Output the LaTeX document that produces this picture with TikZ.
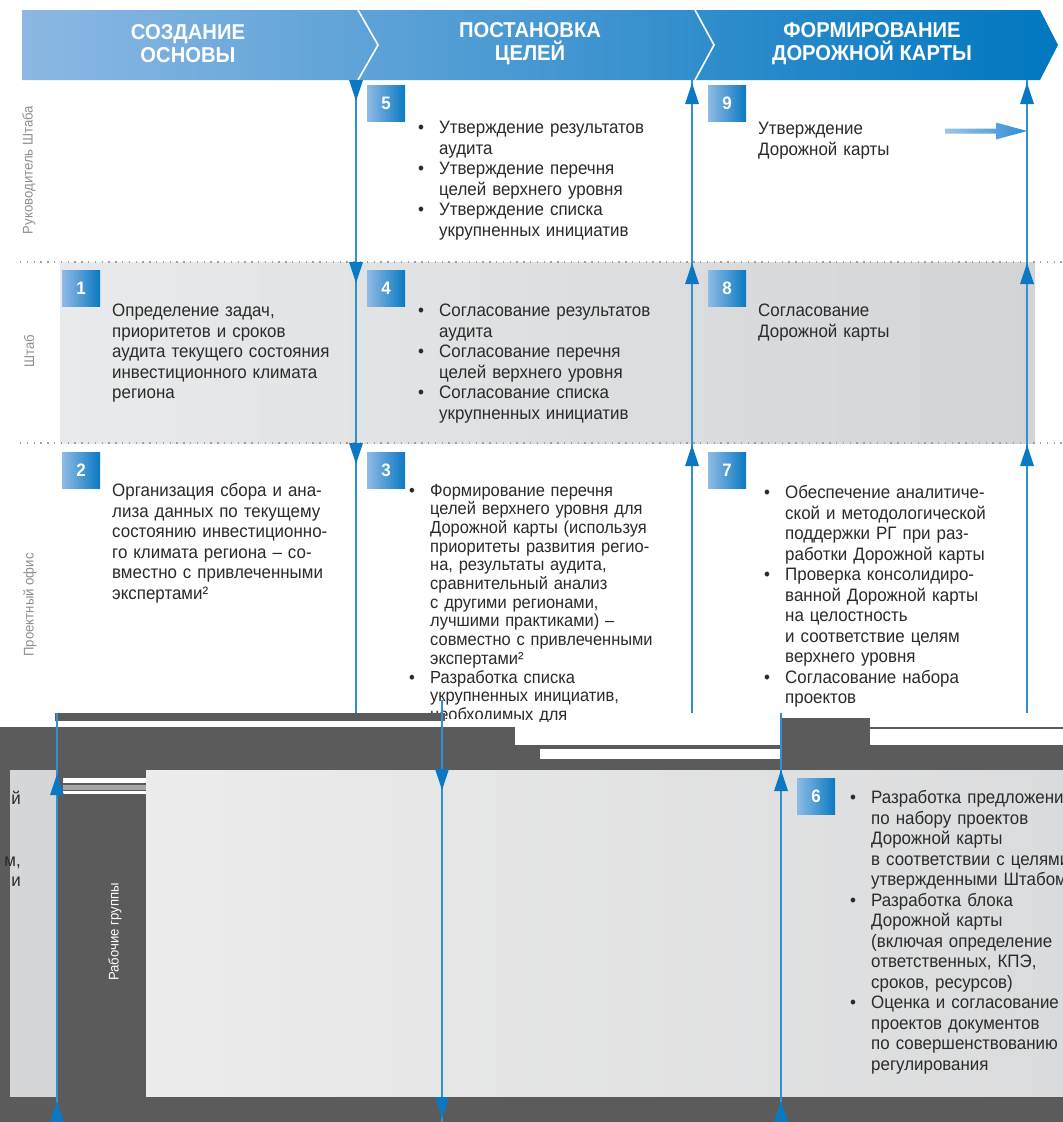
\documentclass[tikz,border=0pt]{standalone}
\usepackage{fontspec}
\setmainfont{Liberation Sans}[FakeStretch=0.94]
\definecolor{hbA}{HTML}{8CB8E3}
\definecolor{hbB}{HTML}{3A92D3}
\definecolor{hbC}{HTML}{0077C0}
\definecolor{bdgA}{HTML}{8FBBE5}
\definecolor{bdgB}{HTML}{0A79C2}
\definecolor{flowc}{HTML}{3090D4}
\definecolor{headc}{HTML}{0A78C2}
\definecolor{txtc}{HTML}{2A2A2A}
\definecolor{lblc}{HTML}{8E8E8E}
\definecolor{dkg}{HTML}{5B5B5B}
\definecolor{lgA}{HTML}{E9EAEB}
\definecolor{lgB}{HTML}{D3D4D6}
\definecolor{lgC}{HTML}{ECECEC}
\definecolor{lgD}{HTML}{DADBDC}
\definecolor{lgE}{HTML}{D5D6D8}
\definecolor{dotc}{HTML}{A0A0A0}
\definecolor{arA}{HTML}{9CC4E8}
\definecolor{arB}{HTML}{2F8ED3}
\newcommand\bl{\makebox[21pt][l]{\textbullet}}
\newcommand\ind{\hspace*{21pt}}
\tikzset{
  body/.style={anchor=base west, inner sep=0pt, text width=330pt, align=left,
    font=\fontsize{18}{20.5}\selectfont, text=txtc},
  bodysmall/.style={body, font=\fontsize{17.5}{18.7}\selectfont},
  badge/.style={minimum width=38pt, minimum height=36pt, inner sep=0pt,
    left color=bdgA, right color=bdgB, text=white,
    font=\bfseries\fontsize{18}{20}\selectfont},
  lanelbl/.style={rotate=90, text=lblc, font=\fontsize{14}{16}\selectfont, inner sep=0pt},
  hdr/.style={text=white, align=center, inner sep=0pt,
    font=\bfseries\fontsize{21.5}{23}\selectfont},
  flow/.style={draw=flowc, line width=1.8pt},
  dotsep/.style={draw=dotc, line width=1.3pt, dash pattern=on 1.3pt off 5.5pt},
  dnhead/.pic={\fill[headc] (-7,0) -- (7,0) -- (0,21) -- cycle;},
  uphead/.pic={\fill[headc] (-7,0) -- (7,0) -- (0,-21) -- cycle;},
}
\begin{document}
\begin{tikzpicture}[x=1pt,y=-1pt]
\useasboundingbox (0,0) rectangle (1063,1122);
\begin{scope}
\clip (0,0) rectangle (1063,1122);
\fill[white] (0,0) rectangle (1063,1122);
% lane 2 background
\shade[left color=lgA, right color=lgB] (60,262) rectangle (1035,443);
% lower section backgrounds
\fill[dkg] (0,770) rectangle (10,1097);
\fill[lgE] (10,770) rectangle (56,1097);
\fill[dkg] (58,770) rectangle (146,1097);
\shade[left color=lgC, right color=lgD] (146,770) rectangle (1063,1097);
\fill[white] (63,778) rectangle (146,783);
\fill[gray!70] (63,785) rectangle (146,790);
\fill[white] (63,791) rectangle (146,794);
\fill[dkg] (0,1097) rectangle (1063,1122);

% banner
\shade[left color=hbA, middle color=hbB, right color=hbC]
  (22,10) -- (1040,10) -- (1058,45) -- (1040,80) -- (22,80) -- cycle;
\draw[white, line width=1.6pt] (358,10) -- (378,45) -- (358,80);
\draw[white, line width=1.6pt] (695,10) -- (714,45) -- (695,80);
\node[hdr] (h1) at (188,44) {СОЗДАНИЕ\\ОСНОВЫ};
\node[hdr] (h2) at (530,44) {ПОСТАНОВКА\\ЦЕЛЕЙ};
\node[hdr] (h3) at (872,44) {ФОРМИРОВАНИЕ\\ДОРОЖНОЙ КАРТЫ};

% lane separators
\draw[dotsep] (20,262) -- (1063,262);
\draw[dotsep] (20,443) -- (1063,443);

% lane labels
\node[lanelbl] (l1) at (29,170) {Руководитель Штаба};
\node[lanelbl] (l2) at (29,351) {Штаб};
\node[lanelbl] (l3) at (30,605) {Проектный офис};
\node[lanelbl, text=white] (l4) at (115,932) {Рабочие группы};

% texts
\node[body] (t1) at (112,316.5) {Определение задач,\\приоритетов и сроков\\аудита текущего состояния\\инвестиционного климата\\региона};
\node[body] (t2) at (112,496.5) {Организация сбора и ана-\\лиза данных по текущему\\состоянию инвестиционно-\\го климата региона – со-\\вместно с привлеченными\\экспертами²};
\node[body] (t5) at (418,133.5) {\bl Утверждение результатов\\\ind аудита\\\bl Утверждение перечня\\\ind целей верхнего уровня\\\bl Утверждение списка\\\ind укрупненных инициатив};
\node[body] (t4) at (418,316.5) {\bl Согласование результатов\\\ind аудита\\\bl Согласование перечня\\\ind целей верхнего уровня\\\bl Согласование списка\\\ind укрупненных инициатив};
\node[bodysmall] (t3) at (409,496) {\bl Формирование перечня\\\ind целей верхнего уровня для\\\ind Дорожной карты (используя\\\ind приоритеты развития регио-\\\ind на, результаты аудита,\\\ind сравнительный анализ\\\ind с другими регионами,\\\ind лучшими практиками) –\\\ind совместно с привлеченными\\\ind экспертами²\\\bl Разработка списка\\\ind укрупненных инициатив,\\\ind необходимых для};
\node[body] (t9) at (758,134.5) {Утверждение\\Дорожной карты};
\node[body] (t8) at (758,316.5) {Согласование\\Дорожной карты};
\node[body] (t7) at (764,498.5) {\bl Обеспечение аналитиче-\\\ind ской и методологической\\\ind поддержки РГ при раз-\\\ind работки Дорожной карты\\\bl Проверка консолидиро-\\\ind ванной Дорожной карты\\\ind на целостность\\\ind и соответствие целям\\\ind верхнего уровня\\\bl Согласование набора\\\ind проектов};
\node[body] (t6) at (850,803.5) {\bl Разработка предложений\\\ind по набору проектов\\\ind Дорожной карты\\\ind в соответствии с целями\\\ind утвержденными Штабом\\\bl Разработка блока\\\ind Дорожной карты\\\ind (включая определение\\\ind ответственных, КПЭ,\\\ind сроков, ресурсов)\\\bl Оценка и согласование\\\ind проектов документов\\\ind по совершенствованию\\\ind регулирования};
\node[body, anchor=base east, text width=] (f1) at (21,804) {й};
\node[body, anchor=base east, text width=] (f2) at (21,866) {м,};
\node[body, anchor=base east, text width=] (f3) at (21,886) {и};

% glitch band
\fill[dkg] (55,713) rectangle (445,721);
\fill[white] (445,719) rectangle (520,727);
\fill[dkg] (0,727) rectangle (1063,770);
\fill[white] (515,722) rectangle (780,745);
\fill[white] (540,749) rectangle (780,759);
\fill[dkg] (780,718) rectangle (870,727);
\fill[white] (870,729) rectangle (1063,745);

% flow lines
\coordinate (a1) at (356,80);  \coordinate (a2) at (356,713);
\coordinate (b1) at (692,80);  \coordinate (b2) at (692,713);
\coordinate (c1) at (1027,80); \coordinate (c2) at (1027,713);
\coordinate (d1) at (57,713);  \coordinate (d2) at (57,1122);
\coordinate (e1) at (442,700); \coordinate (e2) at (442,1122);
\coordinate (f1c) at (781,713); \coordinate (f2c) at (781,1122);
\draw[flow] (a1) -- (a2);
\draw[flow] (b1) -- (b2);
\draw[flow] (c1) -- (c2);
\draw[flow] (d1) -- (d2);
\draw[flow] (e1) -- (e2);
\draw[flow] (f1c) -- (f2c);
\foreach \yy in {80,262,443} \pic at (356,\yy) {dnhead};
\foreach \yy in {104,284,466} {\pic at (692,\yy) {uphead}; \pic at (1027,\yy) {uphead};}
\pic at (57,795) {uphead};
\pic at (57,1122) {uphead};
\pic at (442,769) {dnhead};
\pic at (442,1097) {dnhead};
\pic at (781,791) {uphead};
\pic at (781,1122) {uphead};

% horizontal arrow in box 9
\coordinate (ha1) at (945,131); \coordinate (ha2) at (1027,131);
\shade[left color=arA, right color=arB]
  (945,128.5) -- (996,128.5) -- (996,122.5) -- (1027,131) -- (996,139.5) -- (996,133.5) -- (945,133.5) -- cycle;

% badges
\node[badge] (n1) at (81,288) {1};
\node[badge] (n2) at (81,470) {2};
\node[badge] (n5) at (386,103) {5};
\node[badge] (n4) at (386,288) {4};
\node[badge] (n3) at (386,470) {3};
\node[badge] (n9) at (727,103) {9};
\node[badge] (n8) at (727,288) {8};
\node[badge] (n7) at (727,470) {7};
\node[badge] (n6) at (816,796) {6};
\end{scope}
\end{tikzpicture}
\end{document}
